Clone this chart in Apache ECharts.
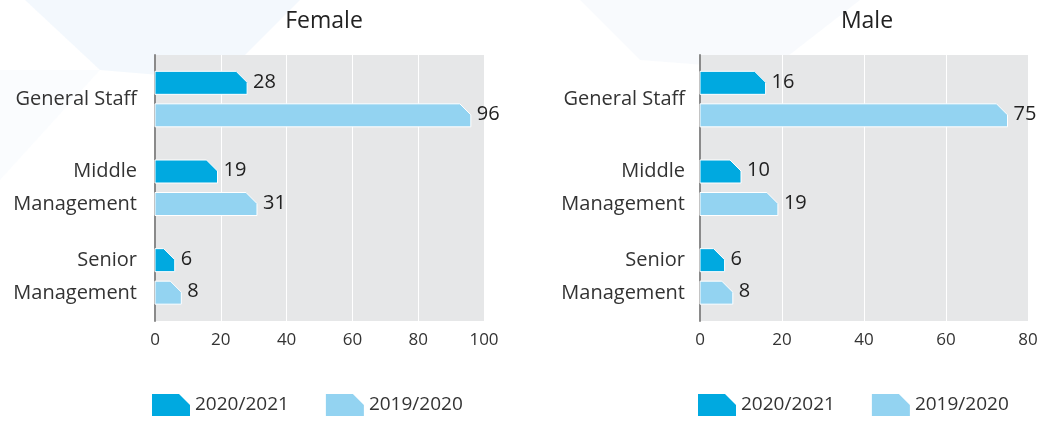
<!DOCTYPE html>
<html>
<head>
<meta charset="utf-8">
<script src="https://cdn.jsdelivr.net/npm/echarts@6/dist/echarts.min.js"></script>
<style>
  html, body { margin: 0; padding: 0; background: #fff; }
  #container { width: 1042px; height: 421px; }
</style>
</head>
<body>
<div id="container"></div>
<script>
// data
var categories = ['General Staff', 'Middle\nManagement', 'Senior\nManagement'];
var seriesNames = ['2020/2021', '2019/2020'];
var female2021 = [28, 19, 6];
var female2020 = [96, 31, 8];
var male2021 = [16, 10, 6];
var male2020 = [75, 19, 8];

var darkBlue = '#00a9e0';
var lightBlue = '#93d3f1';
var font = '"Open Sans", sans-serif';
var barH = 23;
var cut = 11;

// bar with the top-right corner clipped off
function chamferBar(offset, color) {
    return function (params, api) {
        var v = api.value(0);
        var start = api.coord([0, api.value(1)]);
        var end = api.coord([v, api.value(1)]);
        var y0 = start[1] + offset - barH / 2;
        var y1 = y0 + barH;
        var x0 = start[0];
        var x1 = end[0];
        var c = Math.min(cut, x1 - x0);
        return {
            type: 'group',
            children: [{
                type: 'polygon',
                shape: { points: [[x0, y0], [x1 - c, y0], [x1, y0 + c], [x1, y1], [x0, y1]] },
                style: { fill: color, stroke: '#fff', lineWidth: 1 }
            }, {
                type: 'text',
                style: {
                    text: String(v), x: x1 + 6, y: y0 + barH / 2 - 1,
                    verticalAlign: 'middle', fill: '#222',
                    font: '20px ' + font
                }
            }]
        };
    };
}

function pairs(arr) {
    return arr.map(function (v, i) { return [v, i]; });
}

var axisLabelStyle = { color: '#333', fontSize: 17, fontFamily: font };
var icon = 'path://M0,0 L27,0 L38,11 L38,22 L0,22 Z';

var dom = document.getElementById('container');
var chart = echarts.init(dom);

chart.setOption({
    animation: false,
    backgroundColor: '#fff',
    graphic: [
        { type: 'polygon', z: -10, silent: true,
          shape: { points: [[25, 0], [300, 0], [220, 80], [100, 70]] },
          style: { fill: 'rgba(232,242,251,0.5)' } },
        { type: 'polygon', z: -10, silent: true,
          shape: { points: [[0, 70], [100, 70], [0, 180]] },
          style: { fill: 'rgba(244,248,253,0.45)' } },
        { type: 'polygon', z: -10, silent: true,
          shape: { points: [[580, 0], [860, 0], [770, 70], [640, 60]] },
          style: { fill: 'rgba(242,246,252,0.55)' } }
    ],
    title: [
        { text: 'Female', left: 319, top: 5, textAlign: 'center',
          textStyle: { fontSize: 23, fontWeight: 'normal', color: '#222', fontFamily: font } },
        { text: 'Male', left: 862, top: 5, textAlign: 'center',
          textStyle: { fontSize: 23, fontWeight: 'normal', color: '#222', fontFamily: font } }
    ],
    legend: [
        { left: 152, bottom: 5, padding: 0, itemWidth: 38, itemHeight: 22, itemGap: 37, icon: icon,
          data: seriesNames, selectedMode: false,
          textStyle: { fontSize: 19, color: '#333', fontFamily: font } },
        { left: 698, bottom: 5, padding: 0, itemWidth: 38, itemHeight: 22, itemGap: 37, icon: icon,
          data: seriesNames, selectedMode: false,
          textStyle: { fontSize: 19, color: '#333', fontFamily: font } }
    ],
    grid: [
        { left: 155, right: 558, top: 55, bottom: 100, show: true, backgroundColor: '#e6e7e8', borderWidth: 0 },
        { left: 700, right: 14, top: 55, bottom: 100, show: true, backgroundColor: '#e6e7e8', borderWidth: 0 }
    ],
    xAxis: [
        { gridIndex: 0, type: 'value', min: 0, max: 100, interval: 20,
          axisLine: { show: false }, axisTick: { show: false },
          splitLine: { lineStyle: { color: '#fff', width: 1 } },
          axisLabel: Object.assign({ margin: 11 }, axisLabelStyle) },
        { gridIndex: 1, type: 'value', min: 0, max: 80, interval: 20,
          axisLine: { show: false }, axisTick: { show: false },
          splitLine: { lineStyle: { color: '#fff', width: 1 } },
          axisLabel: Object.assign({ margin: 11 }, axisLabelStyle) }
    ],
    yAxis: [
        { gridIndex: 0, type: 'category', data: categories, inverse: true,
          axisLine: { lineStyle: { color: '#8a8a8a', width: 2 } }, axisTick: { show: false },
          axisLabel: { color: '#333', fontSize: 20, lineHeight: 33, margin: 18, fontFamily: font } },
        { gridIndex: 1, type: 'category', data: categories, inverse: true,
          axisLine: { lineStyle: { color: '#8a8a8a', width: 2 } }, axisTick: { show: false },
          axisLabel: { color: '#333', fontSize: 20, lineHeight: 33, margin: 15, fontFamily: font } }
    ],
    series: [
        { name: seriesNames[0], type: 'custom', xAxisIndex: 0, yAxisIndex: 0, itemStyle: { color: darkBlue },
          encode: { x: 0, y: 1 }, renderItem: chamferBar(-16.5, darkBlue), data: pairs(female2021) },
        { name: seriesNames[1], type: 'custom', xAxisIndex: 0, yAxisIndex: 0, itemStyle: { color: lightBlue },
          encode: { x: 0, y: 1 }, renderItem: chamferBar(16, lightBlue), data: pairs(female2020) },
        { name: seriesNames[0], type: 'custom', xAxisIndex: 1, yAxisIndex: 1, itemStyle: { color: darkBlue },
          encode: { x: 0, y: 1 }, renderItem: chamferBar(-16.5, darkBlue), data: pairs(male2021) },
        { name: seriesNames[1], type: 'custom', xAxisIndex: 1, yAxisIndex: 1, itemStyle: { color: lightBlue },
          encode: { x: 0, y: 1 }, renderItem: chamferBar(16, lightBlue), data: pairs(male2020) }
    ]
});
</script>
</body>
</html>
